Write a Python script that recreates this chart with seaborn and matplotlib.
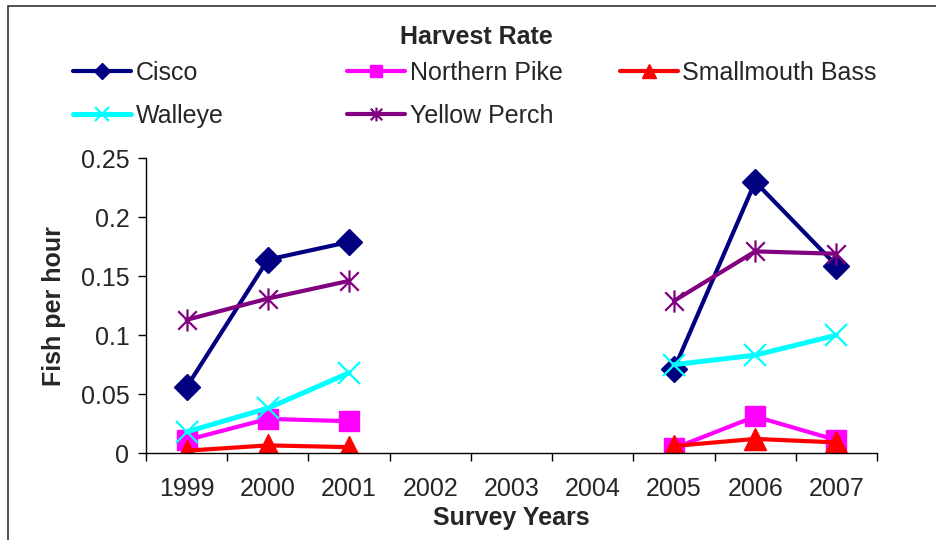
import numpy as np
import pandas as pd
import matplotlib
matplotlib.use("Agg")
import matplotlib.pyplot as plt
from matplotlib.lines import Line2D
from matplotlib.path import Path
import seaborn as sns

years = ["1999", "2000", "2001", "2002", "2003", "2004", "2005", "2006", "2007"]
nan = np.nan
cisco = [0.056, 0.164, 0.179, nan, nan, nan, 0.071, 0.230, 0.159]
northern_pike = [0.011, 0.029, 0.027, nan, nan, nan, 0.004, 0.031, 0.011]
smallmouth_bass = [0.002, 0.0065, 0.005, nan, nan, nan, 0.006, 0.012, 0.009]
walleye = [0.018, 0.038, 0.068, nan, nan, nan, 0.075, 0.083, 0.100]
yellow_perch = [0.113, 0.131, 0.146, nan, nan, nan, 0.129, 0.171, 0.169]

species = ["Cisco", "Northern Pike", "Smallmouth Bass", "Walleye", "Yellow Perch"]
values = [cisco, northern_pike, smallmouth_bass, walleye, yellow_perch]
colors = ["#000080", "#FF00FF", "#FF0000", "#00FFFF", "#800080"]

# excel style star: an x with a vertical bar through it
star = Path([(-1, -1), (1, 1), (-1, 1), (1, -1), (0, -1.2), (0, 1.2)],
            [Path.MOVETO, Path.LINETO, Path.MOVETO, Path.LINETO, Path.MOVETO, Path.LINETO])
markers = ["D", "s", "^", "x", star]
msizes = [13, 14, 16, 16, 16]
lwidths = [3, 3, 3, 3.6, 3]

sns.set_style("white")
plt.rcParams["font.family"] = ["Liberation Sans", "DejaVu Sans"]

fig = plt.figure(figsize=(9.36, 5.4), dpi=100)
ax = fig.add_axes([0.156, 0.161, 0.781, 0.546])

x = np.arange(len(years))
handles = []
for i, (name, vals, c, m, ms, lw) in enumerate(zip(species, values, colors, markers, msizes, lwidths)):
    vals = np.array(vals, dtype=float)
    seg = np.cumsum(np.isnan(vals))
    df = pd.DataFrame({"x": x, "y": vals, "seg": seg}).dropna()
    mew = 1.6 if i >= 3 else 1
    sns.lineplot(data=df, x="x", y="y", units="seg", estimator=None, ax=ax, color=c,
                 marker=m, markersize=ms, linewidth=lw, markeredgecolor=c,
                 markeredgewidth=mew, legend=False)
    handles.append(Line2D([], [], color=c, marker=m, markersize=ms * 0.62, linewidth=lw,
                          markeredgecolor=c, markeredgewidth=mew, label=name))

ax.set_xlim(-0.5, len(years) - 0.5)
ax.set_ylim(0, 0.25)
ax.set_yticks([0, 0.05, 0.1, 0.15, 0.2, 0.25])
ax.set_yticklabels(["0", "0.05", "0.1", "0.15", "0.2", "0.25"])
ax.set_xticks(x)
ax.set_xticklabels(years)
ax.set_xticks(np.arange(-0.5, len(years), 1.0), minor=True)
ax.tick_params(axis="x", which="major", length=0, labelsize=18, pad=17)
ax.tick_params(axis="x", which="minor", length=6, width=1, direction="out", color="black", bottom=True)
ax.tick_params(axis="y", length=6, width=1, direction="out", color="black", labelsize=18, pad=6, left=True)
for s in ["top", "right"]:
    ax.spines[s].set_visible(False)
for s in ["left", "bottom"]:
    ax.spines[s].set_color("black")
    ax.spines[s].set_linewidth(1)

ax.set_xlabel("Survey Years", fontsize=18, fontweight="bold")
ax.xaxis.set_label_coords(0.5, -0.178)
ax.set_ylabel("Fish per hour", fontsize=18, fontweight="bold")
ax.yaxis.set_label_coords(-0.11, 0.5)

# legend entries on an Excel-like grid
leg_pos = [(73, 73), (347, 73), (620, 73), (73, 116), (347, 116)]
for h, (px, py) in zip(handles, leg_pos):
    fig.legend(handles=[h], loc="center left", bbox_to_anchor=(px / 936, 1 - py / 540),
               frameon=False, fontsize=18, handlelength=2.3, handletextpad=0.2,
               borderpad=0, borderaxespad=0)
fig.text(476 / 936, 1 - 37 / 540, "Harvest Rate", ha="center", va="center",
         fontsize=18, fontweight="bold")

border = plt.Rectangle((8 / 936, -0.1), 1.2, 0.1 + (540 - 6) / 540, transform=fig.transFigure,
                       fill=False, edgecolor="#333333", linewidth=1.2, clip_on=False)
fig.add_artist(border)

fig.savefig("out.png", dpi=100)
